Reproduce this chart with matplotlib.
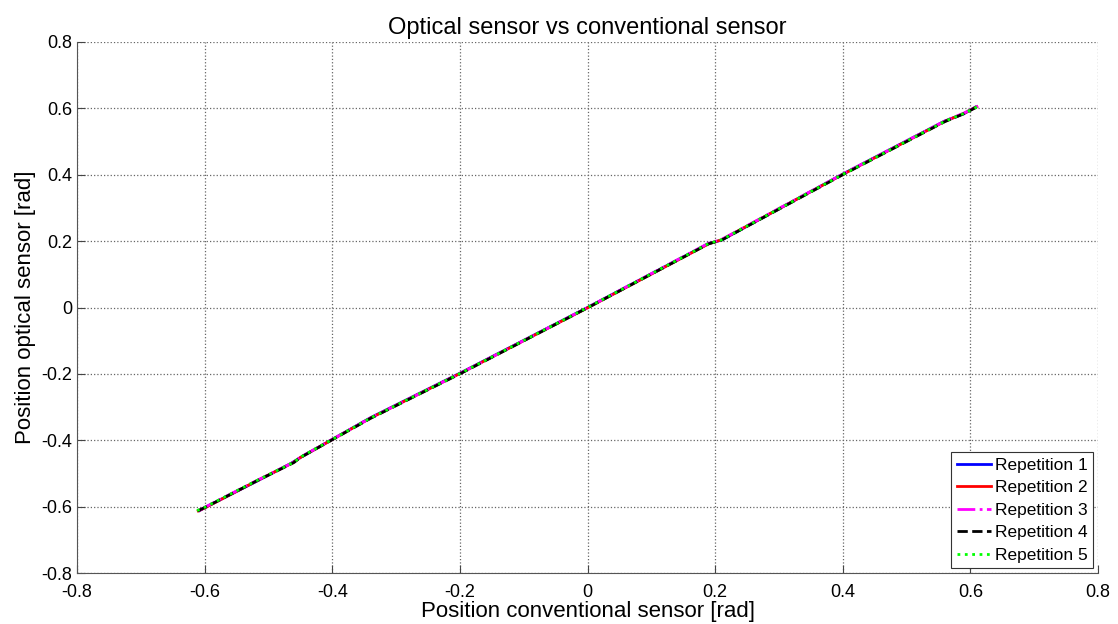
import matplotlib.pyplot as plt

plt.rcParams['font.family'] = ['Liberation Sans', 'DejaVu Sans']

# points, one list pair per repetition
rep1_x = [-0.608, -0.60, -0.52, -0.465, -0.45, -0.34, -0.20, 0.00, 0.19, 0.21, 0.40, 0.56, 0.59, 0.608]
rep1_y = [-0.612, -0.603, -0.525, -0.470, -0.452, -0.332, -0.198, 0.000, 0.193, 0.203, 0.402, 0.562, 0.584, 0.604]
rep2_x = [-0.610, -0.60, -0.52, -0.462, -0.45, -0.34, -0.20, 0.00, 0.19, 0.21, 0.40, 0.56, 0.59, 0.610]
rep2_y = [-0.613, -0.604, -0.524, -0.468, -0.452, -0.333, -0.199, -0.001, 0.192, 0.204, 0.401, 0.561, 0.585, 0.605]
rep3_x = [-0.609, -0.60, -0.52, -0.46, -0.45, -0.34, -0.20, 0.00, 0.19, 0.21, 0.40, 0.56, 0.59, 0.612]
rep3_y = [-0.612, -0.602, -0.523, -0.466, -0.451, -0.333, -0.199, 0.000, 0.194, 0.205, 0.402, 0.562, 0.586, 0.607]
rep4_x = [-0.611, -0.60, -0.52, -0.46, -0.45, -0.34, -0.20, 0.00, 0.19, 0.21, 0.40, 0.56, 0.59, 0.609]
rep4_y = [-0.613, -0.603, -0.524, -0.467, -0.452, -0.334, -0.200, -0.001, 0.192, 0.203, 0.400, 0.560, 0.584, 0.603]
rep5_x = [-0.612, -0.60, -0.52, -0.46, -0.45, -0.34, -0.20, 0.00, 0.19, 0.21, 0.40, 0.56, 0.59, 0.611]
rep5_y = [-0.612, -0.602, -0.523, -0.466, -0.451, -0.333, -0.199, 0.000, 0.193, 0.204, 0.401, 0.561, 0.585, 0.605]

series = [
    ("Repetition 1", rep1_x, rep1_y, "#0000ff", "-"),
    ("Repetition 2", rep2_x, rep2_y, "#ff0000", "-"),
    ("Repetition 3", rep3_x, rep3_y, "#ff00ff", "-."),
    ("Repetition 4", rep4_x, rep4_y, "#000000", "--"),
    ("Repetition 5", rep5_x, rep5_y, "#00ff00", ":"),
]

ticks = [-0.8, -0.6, -0.4, -0.2, 0, 0.2, 0.4, 0.6, 0.8]
tick_labels = ["-0.8", "-0.6", "-0.4", "-0.2", "0", "0.2", "0.4", "0.6", "0.8"]

fig = plt.figure(figsize=(11.18, 6.24), dpi=100)
ax = fig.add_axes([0.0689, 0.0817, 0.9132, 0.851])

for name, xs, ys, c, ls in series:
    ax.plot(xs, ys, color=c, linestyle=ls, linewidth=2, label=name)

ax.set_xlim(-0.8, 0.8)
ax.set_ylim(-0.8, 0.8)
ax.set_xticks(ticks, labels=tick_labels)
ax.set_yticks(ticks, labels=tick_labels)
ax.tick_params(direction='in', length=6, labelsize=13, color='#444444')
ax.tick_params(axis='x', pad=8)
ax.grid(True, linestyle=':', color='#666666', linewidth=0.9)
ax.spines['top'].set_visible(False)
ax.spines['right'].set_visible(False)
for s in ['left', 'bottom']:
    ax.spines[s].set_color('#555555')

ax.set_title("Optical sensor vs conventional sensor", fontsize=17, pad=6)
ax.set_xlabel("Position conventional sensor [rad]", fontsize=16, labelpad=0)
ax.set_ylabel("Position optical sensor [rad]", fontsize=16, labelpad=4)

leg = ax.legend(loc='lower right', fontsize=12.5, fancybox=False, framealpha=1,
                edgecolor='#333333', borderaxespad=0.3, handlelength=2.0,
                handletextpad=0.2, labelspacing=0.42, borderpad=0.3)
leg.get_frame().set_linewidth(0.8)

plt.savefig("out.png", dpi=100)
